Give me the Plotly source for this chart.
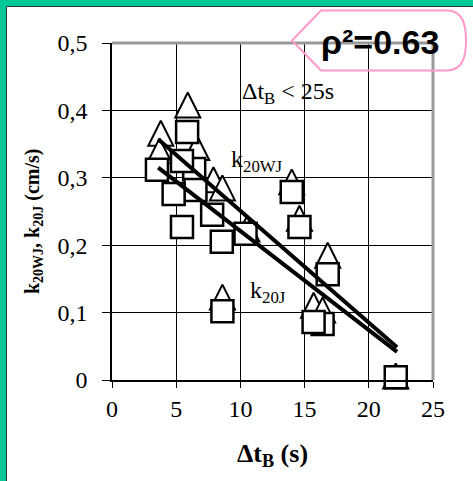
import plotly.graph_objects as go

# Measured points: Δt_B (s) against the two rate constants (cm/s)
dt_wj = [3.8, 3.7, 5.9, 6.6, 7.9, 8.6, 10.5, 14.0, 14.6, 16.8, 8.6, 15.7, 16.4, 22.1]
k_20wj = [0.366, 0.340, 0.408, 0.345, 0.297, 0.285, 0.224, 0.294, 0.240, 0.185, 0.123, 0.111, 0.104, 0.006]

dt_j = [6.4, 6.5, 5.85, 5.45, 3.5, 4.8, 7.8, 5.45, 8.55, 10.4, 14.0, 14.6, 16.8, 8.6, 16.4, 15.7, 22.1]
k_20j = [0.313, 0.282, 0.368, 0.325, 0.312, 0.276, 0.245, 0.227, 0.205, 0.217, 0.279, 0.227, 0.157, 0.102, 0.083, 0.086, 0.004]

# Linear fits k = a + b * Δt
fit_wj = {"a": 0.417, "b": -0.0166}
fit_j = {"a": 0.368, "b": -0.0147}
fit_dt = [3.6, 22.2]

x_ticks = [0, 5, 10, 15, 20, 25]
y_ticks = [0, 0.1, 0.2, 0.3, 0.4, 0.5]

W, H = 473, 481
PL, PT, PW, PH = 112, 43, 321, 337


def px(x):
    return (x - PL) / PW


def py(y):
    return (PT + PH - y) / PH


serif = "Liberation Serif, Times New Roman, serif"
sans = "Liberation Sans, Arial, sans-serif"

fig = go.Figure()

fig.add_trace(go.Scatter(
    x=dt_wj, y=k_20wj, mode="markers", name="k20WJ", cliponaxis=False,
    marker=dict(symbol="arrow-down", angle=180, standoff=12.5, size=25,
                color="white", line=dict(color="black", width=2)),
))
fig.add_trace(go.Scatter(
    x=dt_j, y=k_20j, mode="markers", name="k20J", cliponaxis=False,
    marker=dict(symbol="square", size=22, color="white",
                line=dict(color="black", width=2.5)),
))
for fit in (fit_wj, fit_j):
    fig.add_trace(go.Scatter(
        x=fit_dt, y=[fit["a"] + fit["b"] * t for t in fit_dt],
        mode="lines", line=dict(color="black", width=4), cliponaxis=False,
    ))

axis_common = dict(
    showgrid=True, gridcolor="black", gridwidth=1,
    showline=True, linecolor="black", linewidth=1.5,
    ticks="outside", tickcolor="black", tickwidth=1,
    tickfont=dict(family=serif, size=24, color="black"),
    zeroline=False, fixedrange=True,
)

fig.update_xaxes(range=[0, 25], tickvals=x_ticks, ticklen=6,
                 ticklabelstandoff=0, **axis_common)
fig.update_yaxes(range=[0, 0.5], tickvals=y_ticks, ticklen=8,
                 ticklabelstandoff=10, **axis_common)

shapes = [
    # grey frame on top and right of the plot area
    dict(type="line", xref="paper", yref="paper", x0=0, x1=1, y0=1, y1=1,
         line=dict(color="#999999", width=3)),
    dict(type="line", xref="paper", yref="paper", x0=1, x1=1, y0=0, y1=1,
         line=dict(color="#999999", width=3)),
    # green slide border
    dict(type="rect", xref="paper", yref="paper", x0=px(0), x1=px(6.5),
         y0=py(H), y1=py(0), fillcolor="#00C896", line=dict(width=0)),
    dict(type="rect", xref="paper", yref="paper", x0=px(0), x1=px(W),
         y0=py(6.5), y1=py(0), fillcolor="#00C896", line=dict(width=0)),
    dict(type="line", xref="paper", yref="paper", x0=px(6.5), x1=px(6.5),
         y0=py(H), y1=py(6.5), line=dict(color="#333333", width=1)),
    dict(type="line", xref="paper", yref="paper", x0=px(6.5), x1=px(W),
         y0=py(6.5), y1=py(6.5), line=dict(color="#333333", width=1)),
    # callout outline around the correlation value
    dict(type="path", xref="paper", yref="paper",
         path=(f"M {px(292)} {py(40.5)} L {px(321)} {py(10.5)} L {px(447)} {py(10.5)} "
               f"C {px(463)} {py(10.5)} {px(466)} {py(25)} {px(466)} {py(40.5)} "
               f"C {px(466)} {py(56)} {px(463)} {py(70.5)} {px(447)} {py(70.5)} "
               f"L {px(321)} {py(70.5)} Z"),
         line=dict(color="#FF99CC", width=2), fillcolor="rgba(0,0,0,0)"),
]

annotations = [
    dict(text="<b>ρ²=0.63</b>", x=px(380), y=py(42), xref="paper", yref="paper",
         showarrow=False, xanchor="center", yanchor="middle",
         font=dict(family=sans, size=34, color="black")),
    dict(text="Δt<sub>B</sub> &lt; 25s", x=px(240), y=py(93), xref="paper", yref="paper",
         showarrow=False, xanchor="left", yanchor="middle",
         font=dict(family=serif, size=24, color="black")),
    dict(text="k<sub>20WJ</sub>", x=px(229), y=py(161), xref="paper", yref="paper",
         showarrow=False, xanchor="left", yanchor="middle",
         font=dict(family=serif, size=24, color="black")),
    dict(text="k<sub>20J</sub>", x=px(248), y=py(292), xref="paper", yref="paper",
         showarrow=False, xanchor="left", yanchor="middle",
         font=dict(family=serif, size=24, color="black")),
    dict(text="<b>Δt<sub>B</sub> (s)</b>", x=px(272), y=py(455), xref="paper", yref="paper",
         showarrow=False, xanchor="center", yanchor="middle",
         font=dict(family=serif, size=26, color="black")),
    dict(text="<b>k<sub>20WJ</sub>, k<sub>20J</sub> (cm/s)</b>", x=px(33), y=py(222),
         xref="paper", yref="paper", textangle=-90,
         showarrow=False, xanchor="center", yanchor="middle",
         font=dict(family=serif, size=20, color="black")),
]

fig.update_layout(
    width=W, height=H,
    margin=dict(l=PL, r=W - PL - PW, t=PT, b=H - PT - PH),
    paper_bgcolor="white", plot_bgcolor="white",
    separators=",.",
    showlegend=False,
    shapes=shapes,
    annotations=annotations,
)

fig.write_html("out.html")
